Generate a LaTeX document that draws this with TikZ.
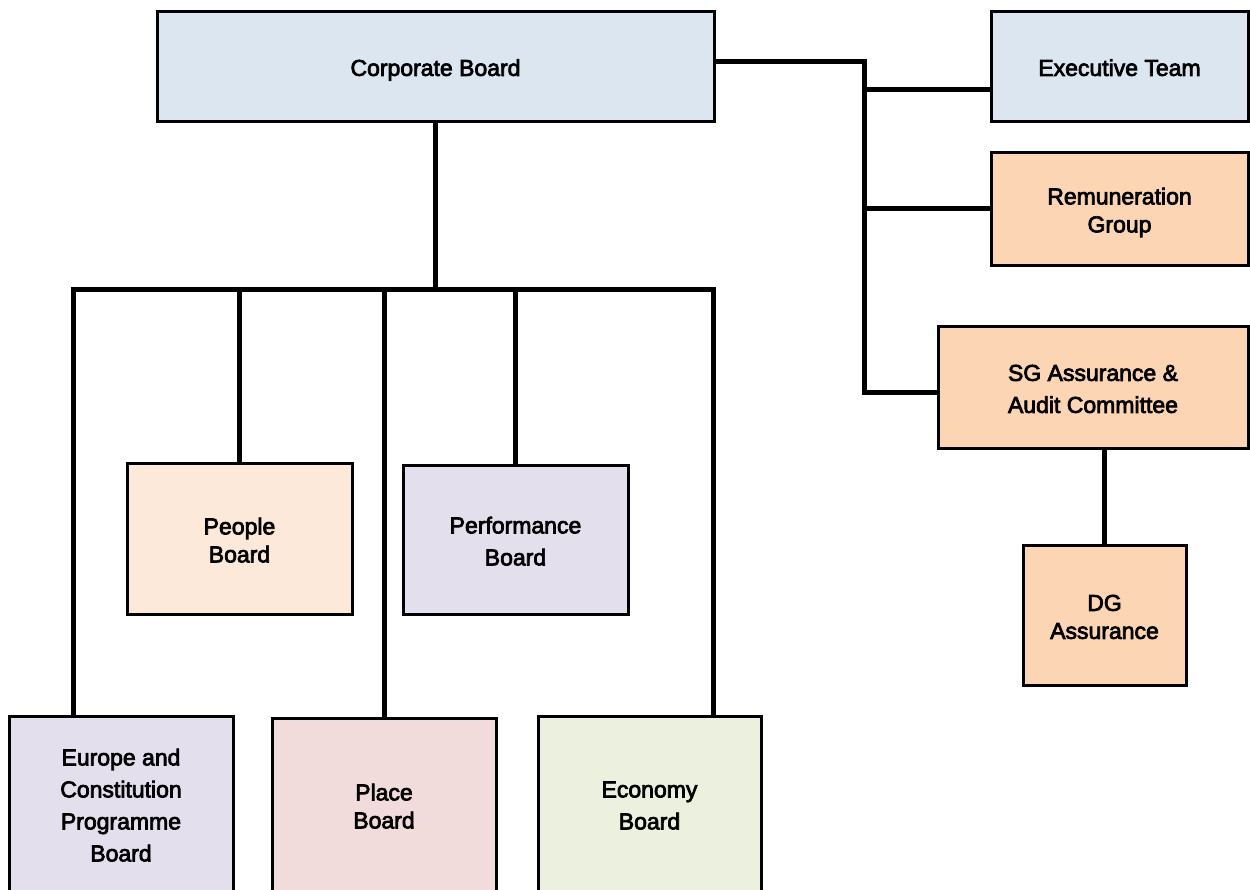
\documentclass[tikz,border=0pt]{standalone}
\usepackage{fontspec}
\setmainfont{Liberation Sans}
\newfontfamily\boxfont{Liberation Sans}[FakeBold=3.2]
\definecolor{cblue}{HTML}{DCE6F1}
\definecolor{cpeach}{HTML}{FCD5B5}
\definecolor{clpeach}{HTML}{FDE9D9}
\definecolor{cpurple}{HTML}{E4DFEC}
\definecolor{cpink}{HTML}{F2DCDB}
\definecolor{cgreen}{HTML}{EBF1DE}
\newcommand\boxtext[1]{\raisebox{-10.5pt}[0pt][0pt]{\begin{tabular}{@{}c@{}}#1\end{tabular}}}
\begin{document}
\begin{tikzpicture}[x=1pt,y=-1pt,
  box/.style={draw=black,line width=3pt,rectangle,inner sep=0pt,
    font=\boxfont\fontsize{23}{28}\selectfont,text=black},
  link/.style={draw=black,line width=5pt,line join=miter}]
\useasboundingbox (0,0) rectangle (1250,889);
\clip (0,0) rectangle (1250,889);
% nodes
\node[box,fill=cblue,minimum width=557pt,minimum height=110pt] (cb) at (435.5,66) {\boxtext{Corporate Board}};
\node[box,fill=cblue,minimum width=257pt,minimum height=110pt] (et) at (1119.5,66) {\boxtext{Executive Team}};
\node[box,fill=cpeach,minimum width=257pt,minimum height=113pt] (rg) at (1119.5,208.5) {\boxtext{Remuneration\\Group}};
\node[box,fill=cpeach,minimum width=310pt,minimum height=122pt] (sg) at (1093,387) {\boxtext{SG Assurance \&\\[4pt]Audit Committee}};
\node[box,fill=cpeach,minimum width=163pt,minimum height=140pt] (dg) at (1104.5,615) {\boxtext{DG\\Assurance}};
\node[box,fill=clpeach,minimum width=225pt,minimum height=151pt] (pe) at (239.5,538.5) {\boxtext{People\\Board}};
\node[box,fill=cpurple,minimum width=225pt,minimum height=149pt] (pf) at (515.5,539.5) {\boxtext{Performance\\[4pt]Board}};
\node[box,fill=cpurple,minimum width=224pt,minimum height=175pt] (eu) at (121,803.5) {\boxtext{Europe and\\[4pt]Constitution\\[4pt]Programme\\[4pt]Board}};
\node[box,fill=cpink,minimum width=224pt,minimum height=173pt] (pl) at (384,804.5) {\boxtext{Place\\Board}};
\node[box,fill=cgreen,minimum width=223pt,minimum height=175pt] (ec) at (649.5,803.5) {\boxtext{Economy\\[4pt]Board}};
% left tree
\coordinate (bl) at (73,289);
\coordinate (br) at (713,289);
\draw[link] (cb.south) -- (cb.south |- bl);
\draw[link] ([xshift=-2.5pt]bl) -- ([xshift=2.5pt]br);
\draw[link] (bl) -- (bl |- eu.north);
\draw[link] (pe.north |- bl) -- (pe.north);
\draw[link] (pl.north |- bl) -- (pl.north);
\draw[link] (pf.north |- bl) -- (pf.north);
\draw[link] (br) -- (br |- ec.north);
% right tree
\coordinate (rj) at (864,61);
\coordinate (rb) at (864,392);
\coordinate (ej) at (864,89);
\draw[link] (cb.east |- rj) -- (rj) -- (rb) -- (rb -| sg.west);
\draw[link] (ej) -- (ej -| et.west);
\draw[link] (rj |- rg.west) -- (rg.west);
\draw[link] (dg.north |- sg.south) -- (dg.north);
\end{tikzpicture}
\end{document}
